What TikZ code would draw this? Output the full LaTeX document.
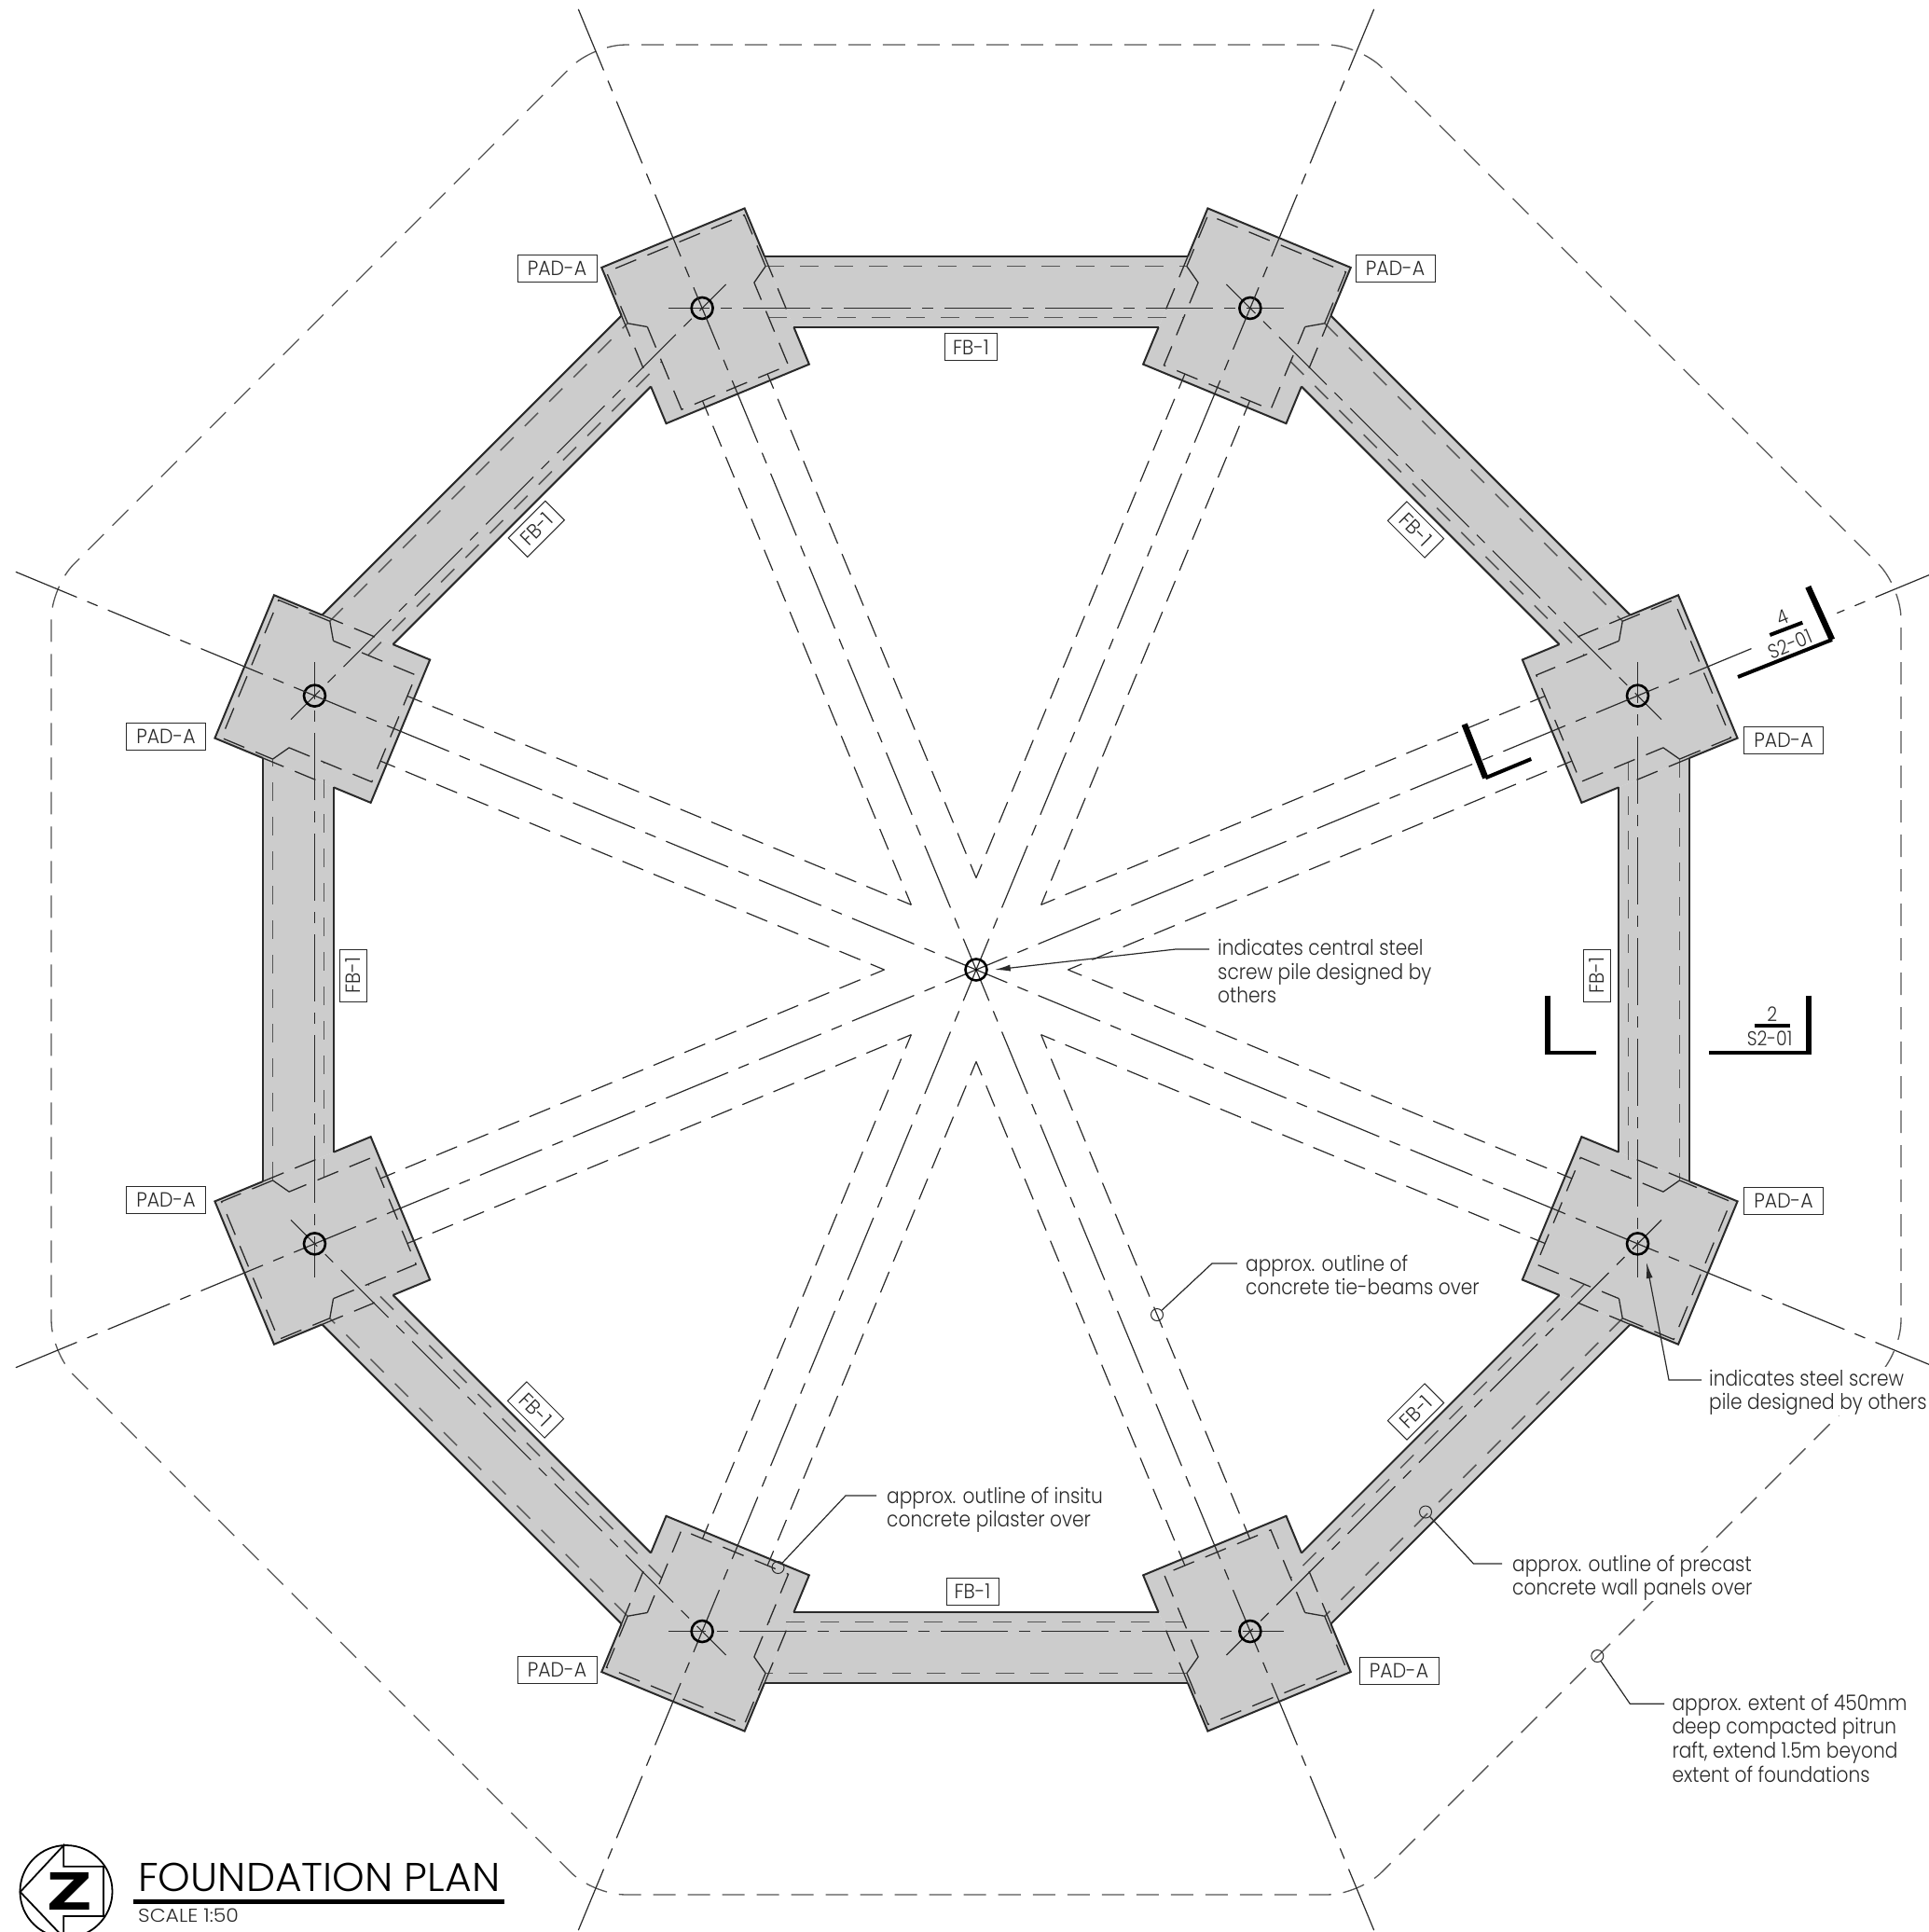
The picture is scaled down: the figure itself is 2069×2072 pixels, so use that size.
\documentclass[tikz,border=0pt]{standalone}
\usepackage{fontspec}
\usetikzlibrary{arrows.meta,calc}
\newfontfamily\lightfont{Poppins}[UprightFont=* Light,FakeStretch=0.8775]
\newfontfamily\tagfont{Poppins}[UprightFont=* Light,FakeStretch=0.93]
\newfontfamily\titlefont{Poppins}[UprightFont=* Light,FakeStretch=1.025]
\newfontfamily\scalefont{Poppins}[UprightFont=* Light,FakeStretch=1.1]
\newfontfamily\heavyfont{DejaVu Sans}[UprightFont=* Bold]
\definecolor{padgray}{HTML}{CCCCCC}
\definecolor{ink}{HTML}{2A2A2A}
\definecolor{midink}{HTML}{555555}
\newcommand{\fl}{\rule{0pt}{20pt}}
\tikzset{
  raftline/.style={draw=midink,line width=1.3pt,dash pattern=on 24pt off 13pt},
  chainline/.style={draw=ink,line width=1.2pt,dash pattern=on 72pt off 12pt on 12pt off 12pt},
  tieline/.style={draw=ink,line width=1.2pt,dash pattern=on 24pt off 12pt,dash phase=8pt},
  hidline/.style={draw=ink,line width=1.3pt,dash pattern=on 24pt off 13pt},
  wallline/.style={draw=midink,line width=1.5pt,dash pattern=on 20pt off 17pt},
  solidedge/.style={draw=ink,line width=2pt,line join=miter},
  pile/.style={circle,draw=black,line width=2.6pt,minimum size=23pt,inner sep=0pt},
  tagbox/.style={draw=ink,line width=1pt,fill=white,inner sep=0pt,minimum height=29pt,text=ink,font=\tagfont\fontsize{22}{24}\selectfont},
  padtag/.style={tagbox,minimum width=85pt},
  beamtag/.style={tagbox,minimum width=56pt},
  note/.style={anchor=north west,inner sep=0pt,align=left,text=ink,yshift=-1pt,font=\lightfont\fontsize{23}{25.7}\selectfont},
  dot/.style={circle,draw=ink,line width=1pt,minimum size=13pt,inner sep=0pt},
  leader/.style={draw=ink,line width=1.2pt},
  secthick/.style={draw=black,line width=6.5pt},
  secthin/.style={draw=black,line width=4pt},
  secttext/.style={inner sep=0pt,text=ink,font=\lightfont\fontsize{21.5}{24}\selectfont},
}
\begin{document}
\begin{tikzpicture}[x=1pt,y=-1pt]
\useasboundingbox (0,0) rectangle (2069,2072);
\clip (0,0) rectangle (2069,2072);
\fill[white] (0,0) rectangle (2069,2072);
\coordinate (O) at (1047,1040);
\begin{scope}[shift={(1047,1040)}]
  % fills
  \foreach \a in {22.5,67.5,...,337.5}{
    \fill[padgray,rotate=\a] (668.5,-83) rectangle (849.5,83);
  }
  \foreach \a in {0,45,...,315}{
    \fill[padgray,rotate=\a] (689,-195.6) -- (765,-227.1) -- (765,227.1) -- (689,195.6) -- cycle;
  }
  % raft
  \draw[raftline,rounded corners=34pt] (22.5:1073.7) -- (67.5:1073.7) -- (112.5:1073.7) -- (157.5:1073.7) -- (202.5:1073.7) -- (247.5:1073.7) -- (292.5:1073.7) -- (337.5:1073.7) -- cycle;
  % beams
  \foreach \a in {0,45,...,315}{
    \begin{scope}[rotate=\a]
      \draw[solidedge] (765,-227.1) -- (765,227.1);
      \draw[solidedge] (689,-195.6) -- (689,195.6);
      \draw[wallline] (699.7,-222.9) -- (699.7,222.9);
      \draw[wallline] (754.6,-226) -- (754.6,226);
      \draw[chainline,dash phase=28pt] (709.5,-330) -- (709.5,330);
    \end{scope}
  }
  % pads
  \foreach \a in {22.5,67.5,...,337.5}{
    \begin{scope}[rotate=\a]
      \draw[solidedge] (793.6,-83) -- (849.5,-83) -- (849.5,83) -- (793.6,83);
      \draw[solidedge] (711.4,-83) -- (668.5,-83) -- (668.5,83) -- (711.4,83);
      \draw[hidline] (793.6,-83) -- (726,-83);
      \draw[hidline] (793.6,83) -- (726,83);
      \draw[hidline] (772,-62) -- (676,-62) -- (676,62) -- (772,62);
      \draw[hidline] (783.5,80) -- (843,80) -- (843,-80) -- (783.5,-80);
      \draw[ink,line width=1.3pt] (772,-62) -- (783.5,-80);
      \draw[ink,line width=1.3pt] (772,62) -- (783.5,80);
      \draw[tieline] (91,-37.7) -- (676,-37.7);
      \draw[tieline] (91,37.7) -- (676,37.7);
      \node[pile] (pile\a) at (768,0) {};
    \end{scope}
    \draw[chainline,dash phase=36pt] (0,0) -- (\a:1115);
  }
  \node[pile] (centrepile) at (0,0) {};
  \fill[black] (0,0) circle (1.5);
\end{scope}

% PAD tags
\node[padtag] (padTL) at (597.5,287.5) {PAD-A};
\node[padtag] (padTR) at (1496.5,287.5) {PAD-A};
\node[padtag] (padRU) at (1913,793.5) {PAD-A};
\node[padtag] (padRL) at (1913,1288) {PAD-A};
\node[padtag] (padLU) at (178,790) {PAD-A};
\node[padtag] (padLL) at (178,1287) {PAD-A};
\node[padtag] (padBL) at (597.5,1791) {PAD-A};
\node[padtag] (padBR) at (1500.5,1792) {PAD-A};
% FB tags
\node[beamtag] (fbT) at (1041.5,372.4) {FB-1};
\node[beamtag] (fbB) at (1043,1707) {FB-1};
\node[beamtag,rotate=90] (fbL) at (379,1046) {FB-1};
\node[beamtag,rotate=90] (fbR) at (1712.5,1046) {FB-1};
\node[beamtag,rotate=45] (fbTL) at (575.3,567.3) {FB-1};
\node[beamtag,rotate=-45] (fbTR) at (1518.5,568) {FB-1};
\node[beamtag,rotate=-45] (fbBL) at (574.5,1512) {FB-1};
\node[beamtag,rotate=45] (fbBR) at (1518.5,1514) {FB-1};

% notes
\node[note] (n1) at (1306,1003.3) {\fl indicates central steel\\screw pile designed by\\others};
\coordinate (n1a) at (1297,1018);
\coordinate (n1b) at (1261,1018);
\coordinate (n1c) at (1066.7,1040);
\draw[leader,-{Latex[length=17pt,width=7pt]}] (n1a) -- (n1b) -- (n1c);

\node[note] (n2) at (1336,1342) {\fl approx. outline of\\concrete tie-beams over};
\node[dot] (d2) at (1241,1410) {};
\coordinate (n2b) at (1300,1355);
\coordinate (n2a) at (1327,1355);
\draw[leader] (d2) -- (n2b) -- (n2a);

\node[note,fill=white] (n3) at (1833,1465) {\fl indicates steel screw\\pile designed by others};
\coordinate (n3a) at (1825,1480);
\coordinate (n3b) at (1790,1480);
\coordinate (n3c) at (1766,1354);
\draw[leader,-{Latex[length=17pt,width=7pt]}] (n3a) -- (n3b) -- (n3c);

\node[note] (n4) at (951,1591) {\fl approx. outline of insitu\\concrete pilaster over};
\node[dot] (d4) at (834.5,1681) {};
\coordinate (n4b) at (907,1604);
\coordinate (n4a) at (940,1604);
\draw[leader] (d4) -- (n4b) -- (n4a);

\node[note,fill=white] (n5) at (1622,1664) {\fl approx. outline of precast\\concrete wall panels over};
\node[dot] (d5) at (1529,1621.5) {};
\coordinate (n5b) at (1580.5,1677);
\coordinate (n5a) at (1611,1677);
\draw[leader] (d5) -- (n5b) -- (n5a);

\node[note] (n6) at (1793.3,1813) {\fl approx. extent of 450mm\\deep compacted pitrun\\raft, extend 1.5m beyond\\extent of foundations};
\node[dot] (d6) at (1713.3,1776) {};
\coordinate (n6b) at (1748.3,1827.3);
\coordinate (n6a) at (1785,1827.3);
\draw[leader] (d6) -- (n6b) -- (n6a);

% section 2
\coordinate (s2a) at (1660,1067.7);
\coordinate (s2b) at (1660,1128.7);
\coordinate (s2c) at (1711.7,1128.7);
\coordinate (s2d) at (1833.3,1128.7);
\coordinate (s2e) at (1940,1128.7);
\coordinate (s2f) at (1940,1067.7);
\draw[secthick] (s2a) -- ($(s2b)+(0,2)$);
\draw[secthin] (s2b) -- (s2c);
\draw[secthick] (s2f) -- ($(s2e)+(0,2)$);
\draw[secthin] (s2d) -- (s2e);
\node[secttext] (s2n) at (1900.7,1087.3) {2};
\node[secttext] (s2s) at (1898,1114) {S2-01};
\coordinate (s2l) at (1881.7,1100);
\coordinate (s2r) at (1920,1100);
\draw[secthin] (s2l) -- (s2r);

% section 4
\coordinate (s4g) at (1888,693);
\coordinate (s4h) at (1970,657);
\draw[white,line width=5pt] (s4g) -- (s4h);
\coordinate (s4a) at (1939.3,629.3);
\coordinate (s4b) at (1965,686);
\coordinate (s4c) at (1864,726);
\coordinate (s4d) at (1570.7,776.7);
\coordinate (s4e) at (1593.3,834.3);
\coordinate (s4f) at (1642.3,814);
\draw[secthick] (s4a) -- (s4b);
\draw[secthin] (s4b) -- (s4c);
\draw[secthick] (s4d) -- (s4e);
\draw[secthin] (s4e) -- (s4f);
\node[secttext,rotate=22.5] (s4n) at (1911.7,661.7) {4};
\node[secttext,rotate=22.5] (s4s) at (1920,690.7) {S2-01};
\coordinate (s4l) at (1898.3,681);
\coordinate (s4r) at (1933.3,667.7);
\draw[secthin] (s4l) -- (s4r);

% north symbol
\node[circle,draw=black,line width=1.8pt,minimum size=99pt,inner sep=0pt] (ncircle) at (71,2028.5) {};
\coordinate (ntop) at (68.3,1979);
\coordinate (nleft) at (21.7,2029);
\coordinate (nbot) at (68.3,2078);
\draw[black,line width=1.8pt] (nbot) -- (nleft) -- (ntop) -- (68.3,2001.7) -- (111,2001.7) -- (111,2055) -- (68.3,2055) -- (nbot);
\node[inner sep=0pt,xscale=1.22,font=\heavyfont\fontsize{55}{60}\selectfont] (nz) at (75.3,2028.3) {Z};

% title
\node[anchor=base west,inner sep=0pt,text=black,font=\titlefont\fontsize{43}{48}\selectfont] (title) at (148,2028.3) {FOUNDATION PLAN};
\coordinate (tl) at (142.7,2039.3);
\coordinate (tr) at (541,2039.3);
\draw[black,line width=4.5pt] (tl) -- (tr);
\node[anchor=base west,inner sep=0pt,text=ink,font=\scalefont\fontsize{20}{24}\selectfont] (scale) at (148,2061.7) {SCALE 1:50};
\end{tikzpicture}
\end{document}
